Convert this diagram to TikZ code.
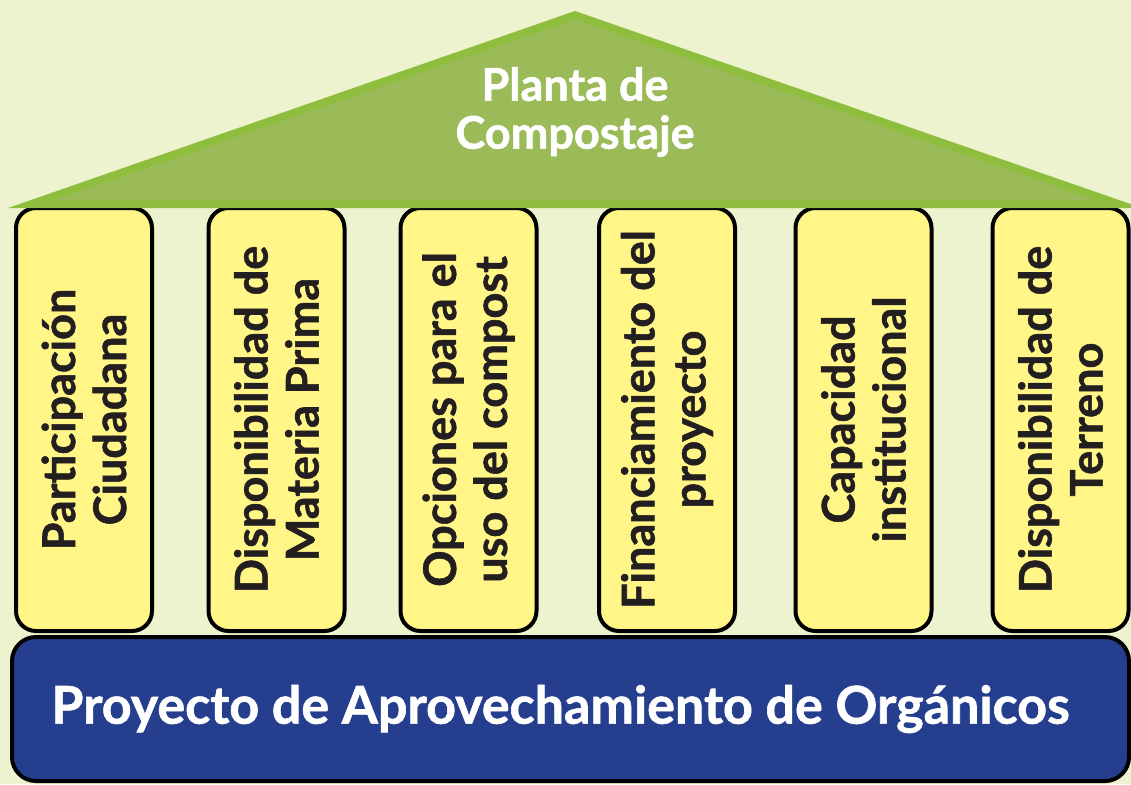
\documentclass[tikz,border=0pt]{standalone}
\usepackage{fontspec}
\setmainfont{Lato}[BoldFeatures={FakeBold=1.2}]
\usepackage{tikz}
\usetikzlibrary{calc}
\definecolor{fondo}{RGB}{237,243,206}
\definecolor{techo}{RGB}{155,187,89}
\definecolor{techoborde}{RGB}{143,190,62}
\definecolor{pilar}{RGB}{255,246,135}
\definecolor{base}{RGB}{37,63,142}
\definecolor{texto}{RGB}{35,31,32}

\begin{document}
\begin{tikzpicture}[x=0.5pt,y=-0.5pt,
    columna/.style={draw=black, fill=pilar, line width=2pt, rounded corners=10pt, rotate=90,
      minimum width=211.5pt, minimum height=68pt, inner sep=0pt, align=center,
      text=texto, font=\fontsize{22.5}{25.5}\selectfont\bfseries},
    basebox/.style={draw=black, fill=base, line width=2pt, rounded corners=12pt,
      minimum width=558.5pt, minimum height=72pt, text=white,
      font=\fontsize{26}{30}\selectfont\bfseries}]
          \fill[fondo] (0,0) rectangle (1131,784);
          \useasboundingbox (0,0) rectangle (1131,784);

          % columnas
          \node[columna] (Participacion) at (84,419.5) {Participación\\Ciudadana};
          \node[columna] (Materia) at (276.5,419.5) {Disponibilidad de\\Materia Prima};
          \node[columna] (Opciones) at (468.5,419.5) {Opciones para el\\uso del compost};
          \node[columna] (Financiamiento) at (667,419.5) {Financiamiento del\\proyecto};
          \node[columna] (Capacidad) at (863.5,419.5) {Capacidad\\institucional};
          \node[columna] (Terreno) at (1060.5,419.5) {Disponibilidad de\\Terreno};

          % techo
          \fill[techoborde] (8,208) -- (575,11) -- (1142,208) -- cycle;
          \fill[techo] (55.5,200) -- (575,19.5) -- (1094.5,200) -- cycle;
          \node[align=center, text=white, font=\fontsize{22.5}{24}\selectfont\bfseries] (Planta) at (575,112) {Planta de\\Compostaje};

          % base
          \node[basebox] (Proyecto) at (570.5,709) {Proyecto de Aprovechamiento de Orgánicos\hspace*{10pt}};
        \end{tikzpicture}
\end{document}
